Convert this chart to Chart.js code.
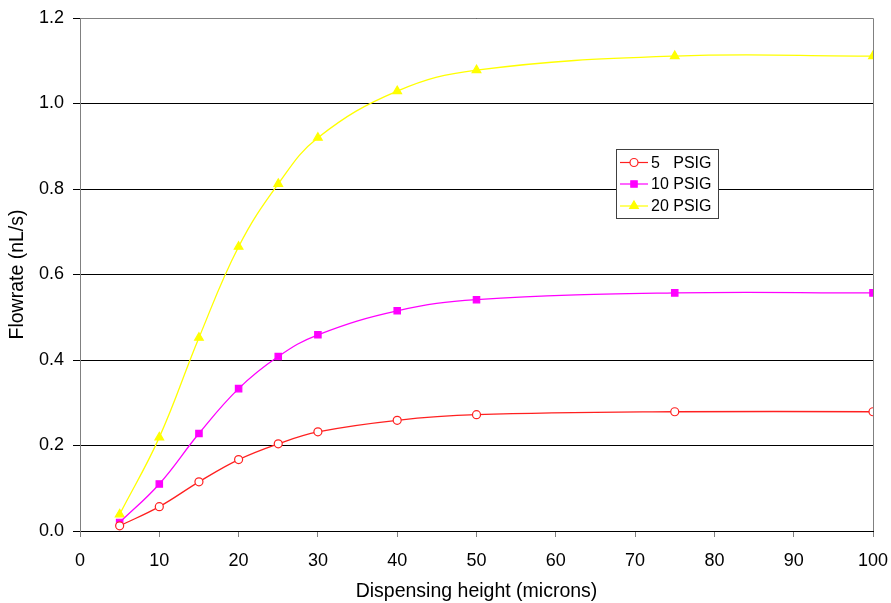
<!DOCTYPE html>
<html><head><meta charset="utf-8">
<script src="https://cdn.jsdelivr.net/npm/chart.js@4.4.0/dist/chart.umd.min.js"></script>
<style>html,body{margin:0;padding:0;background:#fff}#wrap{width:891px;height:603px}</style>
</head><body><div id="wrap"><canvas id="c" width="891" height="603"></canvas></div>
<script>
const heights = [5, 10, 15, 20, 25, 30, 40, 50, 75, 100];
const psig5 = [0.012, 0.057, 0.115, 0.167, 0.204, 0.232, 0.259, 0.272, 0.279, 0.279];
const psig10 = [0.020, 0.110, 0.228, 0.333, 0.408, 0.459, 0.515, 0.541, 0.557, 0.557];
const psig20 = [0.039, 0.219, 0.452, 0.665, 0.812, 0.920, 1.029, 1.078, 1.111, 1.111];
const seriesNames = ['5   PSIG', '10 PSIG', '20 PSIG'];
const xTitle = 'Dispensing height (microns)';
const yTitle = 'Flowrate (nL/s)';

const FONT = '"Liberation Sans", Arial, sans-serif';
function pts(ys){ return heights.map((x,i)=>({x:x,y:ys[i]})); }

const styles = [
  {color:'#FF2020', point:'circle', radius:4, fill:'#FFFFFF'},
  {color:'#FF00FF', point:'rect', radius:4.5, fill:'#FF00FF'},
  {color:'#FFFF00', point:'triangle', radius:5, fill:'#FFFF00'}
];
const allData = [psig5, psig10, psig20];

const frame = {
  id:'frame',
  beforeDatasetsDraw(chart){
    const a = chart.chartArea, ctx = chart.ctx;
    ctx.save();
    ctx.strokeStyle = '#808080'; ctx.lineWidth = 1;
    ctx.beginPath();
    ctx.moveTo(a.left, a.top+0.5); ctx.lineTo(a.right+0.5, a.top+0.5); ctx.lineTo(a.right+0.5, a.bottom);
    ctx.stroke();
    ctx.restore();
  },
  afterDraw(chart){
    const ctx = chart.ctx;
    const bx = 616, by = 149, bw = 102, bh = 69;
    ctx.save();
    ctx.fillStyle = '#fff';
    ctx.fillRect(bx, by, bw, bh);
    ctx.strokeStyle = '#404040'; ctx.lineWidth = 1;
    ctx.strokeRect(bx+0.5, by+0.5, bw, bh);
    ctx.font = '16px ' + FONT;
    ctx.textBaseline = 'middle';
    const rows = [162.5, 184, 206];
    chart.data.datasets.forEach((ds, i) => {
      const y = rows[i];
      ctx.strokeStyle = ds.borderColor; ctx.lineWidth = 1.2;
      ctx.beginPath(); ctx.moveTo(620, y); ctx.lineTo(648, y); ctx.stroke();
      ctx.fillStyle = ds.pointBackgroundColor;
      ctx.strokeStyle = ds.borderColor;
      Chart.helpers.drawPoint(ctx, {pointStyle: ds.pointStyle, radius: ds.pointRadius, borderWidth: 1.2}, 634, y);
      ctx.fillStyle = '#000';
      ctx.fillText(ds.label, 651, y+1);
    });
    ctx.restore();
  }
};

new Chart(document.getElementById('c'), {
  type: 'line',
  data: {
    datasets: allData.map((d,i)=>({
      label: seriesNames[i],
      data: pts(d),
      borderColor: styles[i].color,
      backgroundColor: styles[i].fill,
      pointBackgroundColor: styles[i].fill,
      pointBorderColor: styles[i].color,
      pointStyle: styles[i].point,
      pointRadius: styles[i].radius,
      pointBorderWidth: 1.2,
      borderWidth: 1.3,
      tension: 0.4,
      cubicInterpolationMode: 'default',
      fill: false
    }))
  },
  options: {
    responsive: false,
    animation: false,
    layout: {padding: {top: 18, right: 18, left: 0, bottom: 0}},
    plugins: {legend: {display: false}, tooltip: {enabled: false}},
    scales: {
      x: {
        type: 'linear', min: 0, max: 100,
        afterFit(s){ s.height = 72; s.paddingLeft = 0; s.paddingRight = 0; },
        ticks: {stepSize: 10, color: '#000', font: {family: FONT, size: 18}, padding: 13, maxRotation: 0},
        grid: {drawOnChartArea: false, drawTicks: true, tickLength: 6, color: '#808080'},
        border: {color: '#000', width: 1},
        title: {display: true, text: xTitle, color: '#000', font: {family: FONT, size: 19.5}, padding: {top: 0, bottom: 0}}
      },
      y: {
        min: 0, max: 1.2,
        afterFit(s){ s.width = 80; s.paddingTop = 0; s.paddingBottom = 0; },
        ticks: {stepSize: 0.2, color: '#000', font: {family: FONT, size: 18}, padding: 9,
          callback: v => Number(v).toFixed(1)},
        grid: {color: '#000', lineWidth: 1, drawTicks: true, tickLength: 7},
        border: {color: '#808080', width: 1},
        title: {display: true, text: yTitle, color: '#000', font: {family: FONT, size: 19.5}, padding: {top: 6, bottom: 0}}
      }
    }
  },
  plugins: [frame]
});
</script></body></html>
